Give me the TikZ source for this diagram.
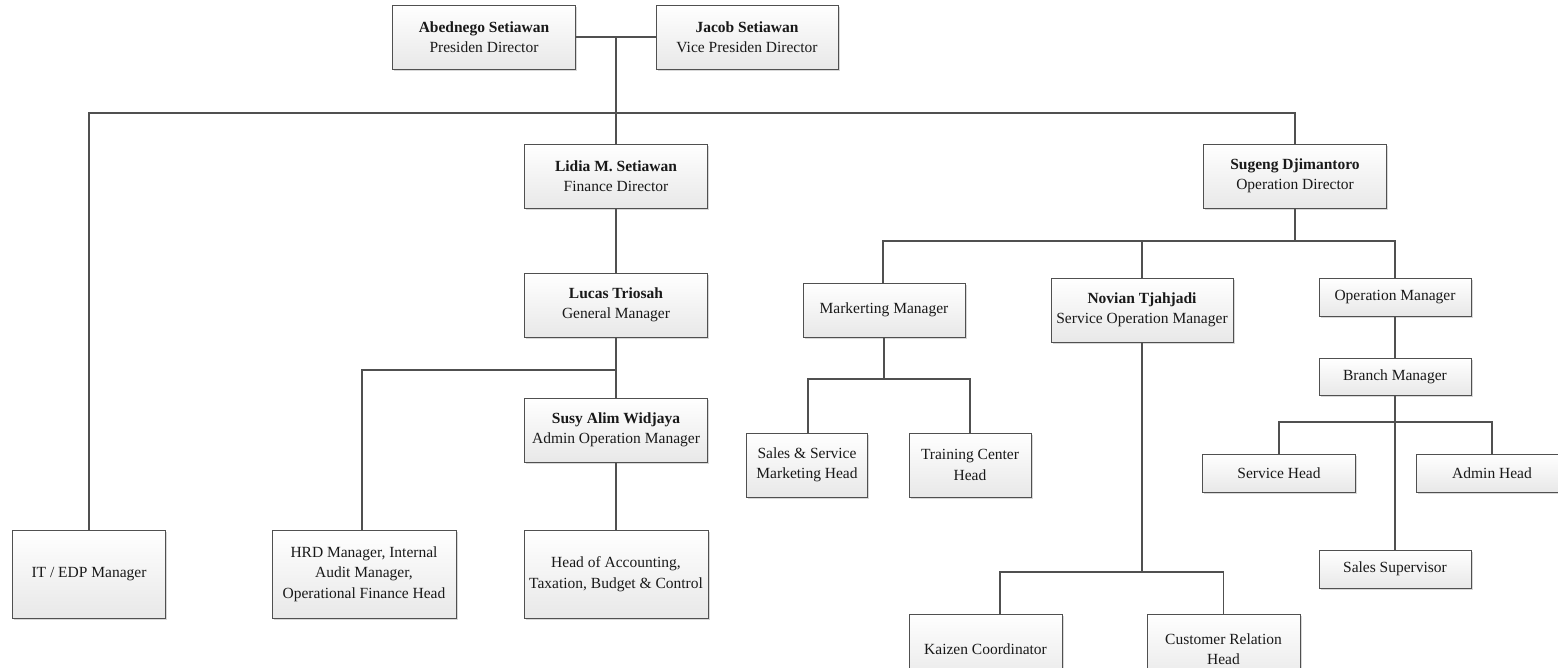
\documentclass[tikz,border=0pt]{standalone}
\usepackage{fontspec}
\setmainfont{Liberation Serif}
\usetikzlibrary{shadows}
\definecolor{linegray}{HTML}{505050}
\definecolor{boxgray}{HTML}{E8E8E8}
\tikzset{
  orgbox/.style={draw=linegray, line width=1pt, rectangle, top color=white, bottom color=boxgray,
    align=center, inner sep=2pt, font=\fontsize{15.5}{20.5}\selectfont, text=black!90,
    drop shadow={shadow xshift=1.5pt, shadow yshift=-1.5pt, fill=black!30, opacity=0.5}},
  wire/.style={draw=linegray, line width=1.1pt},
}
\begin{document}
\begin{tikzpicture}[x=1pt,y=-1pt]
\useasboundingbox (0,0) rectangle (1558,667);
\clip (0,0) rectangle (1558,667);
% boxes
\node[orgbox, minimum width=183, minimum height=64] (pres) at (484,37) {\textbf{Abednego Setiawan}\\Presiden Director};
\node[orgbox, minimum width=182, minimum height=64] (vice) at (747,37) {\textbf{Jacob Setiawan}\\Vice Presiden Director};
\node[orgbox, minimum width=183, minimum height=64] (lidia) at (616,176) {\textbf{Lidia M. Setiawan}\\Finance Director};
\node[orgbox, minimum width=183, minimum height=64] (sugeng) at (1295,176) {\textbf{Sugeng Djimantoro}\\Operation Director};
\node[orgbox, minimum width=183, minimum height=64] (lucas) at (616,305) {\textbf{Lucas Triosah}\\General Manager};
\node[orgbox, minimum width=183, minimum height=64] (susy) at (616,430) {\textbf{Susy Alim Widjaya}\\Admin Operation Manager};
\node[orgbox, minimum width=153, minimum height=88] (it) at (89,574) {IT / EDP Manager};
\node[orgbox, minimum width=184, minimum height=88] (hrd) at (364,574) {HRD Manager, Internal\\Audit Manager,\\Operational Finance Head};
\node[orgbox, minimum width=184, minimum height=88] (acc) at (616,574) {Head of Accounting,\\Taxation, Budget \& Control};
\node[orgbox, minimum width=162, minimum height=54] (mkt) at (884,310) {Markerting Manager};
\node[orgbox, minimum width=182, minimum height=64] (novian) at (1142,310) {\textbf{Novian Tjahjadi}\\Service Operation Manager};
\node[orgbox, minimum width=152, minimum height=38] (opm) at (1395,297) {Operation Manager};
\node[orgbox, minimum width=152, minimum height=37] (branch) at (1395,377) {Branch Manager};
\node[orgbox, minimum width=121, minimum height=64] (ssm) at (807,465) {Sales \& Service\\Marketing Head};
\node[orgbox, minimum width=122, minimum height=64] (tc) at (970,465) {Training Center\\Head};
\node[orgbox, minimum width=153, minimum height=38] (svh) at (1279,473) {Service Head};
\node[orgbox, minimum width=152, minimum height=38] (adm) at (1492,473) {Admin Head};
\node[orgbox, minimum width=152, minimum height=38] (ssup) at (1395,569) {Sales Supervisor};
\node[orgbox, minimum width=153, minimum height=70] (kai) at (985.5,649) {Kaizen Coordinator};
\node[orgbox, minimum width=153, minimum height=70] (cust) at (1223.5,649) {Customer Relation\\Head};
% junction coordinates
\coordinate (j0) at (616,37);
\coordinate (busL) at (89,113);
\coordinate (busR) at (1295,113);
\coordinate (gL) at (362,370);
\coordinate (gM) at (616,370);
\coordinate (oL) at (883,241);
\coordinate (oR) at (1395,241);
\coordinate (mL) at (808,379);
\coordinate (mR) at (970,379);
\coordinate (nL) at (1000,572);
\coordinate (nR) at (1223.5,572);
\coordinate (bL) at (1279,422);
\coordinate (bR) at (1492,422);
% connectors
\draw[wire] (pres.east) -- (vice.west);
\draw[wire] (j0) -- (lidia.north);
\draw[wire] (it.north) -- (busL) -- (busR) -- (sugeng.north);
\draw[wire] (lidia.south) -- (lucas.north);
\draw[wire] (lucas.south) -- (susy.north);
\draw[wire] (hrd.north -| gL) -- (gL) -- (gM);
\draw[wire] (susy.south) -- (acc.north);
\draw[wire] (sugeng.south) -- (sugeng.south |- oR);
\draw[wire] (mkt.north -| oL) -- (oL) -- (oR) -- (opm.north);
\draw[wire] (novian.north) -- (novian.north |- oR);
\draw[wire] (mkt.south) -- (mkt.south |- mL);
\draw[wire] (ssm.north -| mL) -- (mL) -- (mR) -- (tc.north -| mR);
\draw[wire] (novian.south) -- (novian.south |- nL);
\draw[wire] (kai.north -| nL) -- (nL) -- (nR) -- (cust.north -| nR);
\draw[wire] (opm.south) -- (branch.north);
\draw[wire] (branch.south) -- (ssup.north);
\draw[wire] (svh.north -| bL) -- (bL) -- (bR) -- (adm.north -| bR);
\end{tikzpicture}
\end{document}
